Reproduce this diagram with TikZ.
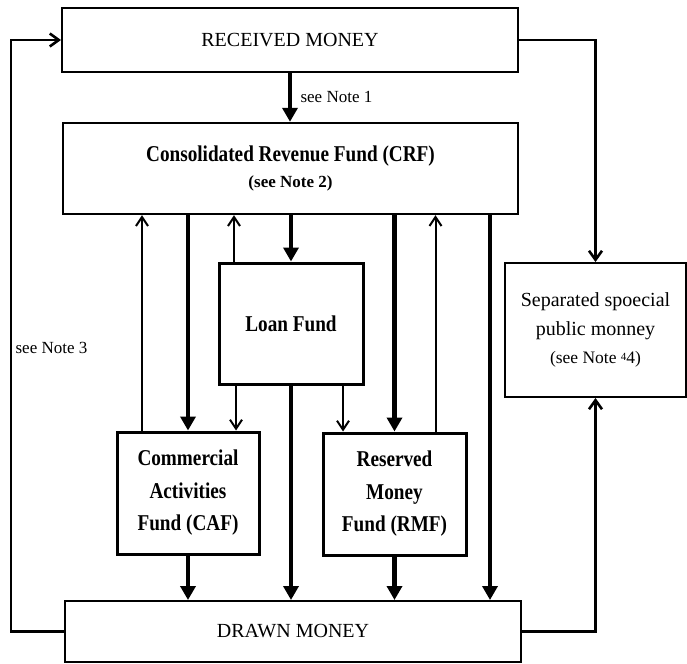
\documentclass[tikz,border=0pt]{standalone}
\usepackage{fontspec}
\setmainfont{Liberation Serif}
\newfontfamily\condfont{Liberation Serif}[FakeStretch=0.85]
\usetikzlibrary{arrows.meta}

\tikzset{%
  money box/.style={
    draw,
    line width=2pt,
    minimum width=456pt,
    font=\fontsize{20}{24}\selectfont
  },
  fund box/.style={
    draw,
    line width=3pt,
    align=center,
    font=\condfont\bfseries\fontsize{22.6}{32.5}\selectfont
  },
  note/.style={font=\fontsize{17}{20}\selectfont},
  main flow/.style={line width=4.5pt, -{Triangle[length=14pt,width=15pt]}},
  side flow/.style={line width=2pt, -{Straight Barb[length=9pt,width=12pt]}},
  outer flow/.style={line width=2.6pt, -{Straight Barb[length=9pt,width=13pt]}},
}

\begin{document}
\begin{tikzpicture}[x=1pt, y=-1pt]
  \useasboundingbox (0,0) rectangle (687,663);
  % money in and out
  \node [money box, minimum height=64pt] (received) at (290,40) {RECEIVED MONEY};
  \node [money box, minimum height=61pt] (drawn) at (293,631.5) {DRAWN MONEY};

  % funds
  \node [draw, line width=2.4pt, minimum width=455pt, minimum height=91pt, align=center,
         font=\fontsize{17}{26}\selectfont] (crf) at (290.5,168.5)
    {{\condfont\bfseries\fontsize{22.6}{27}\selectfont Consolidated Revenue Fund (CRF)}\\
     {\bfseries (see Note 2)}};
  \node [fund box, minimum width=144pt, minimum height=121pt] (loan) at (291,323.5) {Loan Fund};
  \node [fund box, minimum width=142pt, minimum height=122pt] (caf) at (188,493)
    {Commercial\\Activities\\Fund (CAF)};
  \node [fund box, minimum width=143pt, minimum height=122pt] (rmf) at (394.5,494)
    {Reserved\\Money\\Fund (RMF)};
  \node [draw, line width=2pt, minimum width=181pt, minimum height=134pt, align=center,
         font=\fontsize{20}{28.5}\selectfont] (special) at (595.5,330)
    {Separated spoecial\\public monney\\
     {\fontsize{17.5}{20}\selectfont (see Note {\fontsize{11}{12}\selectfont\raisebox{3pt}{4}}4)}};

  % outer flows
  \draw [main flow] (received.south) -- (received.south |- crf.north)
    node [note, right=5pt, midway] (note1) {see Note 1};
  \draw [outer flow] (drawn.west) -- ++(-53,0) coordinate (loop)
    |- node [note, right, pos=0.24] (note3) {see Note 3} (received.west);
  \draw [outer flow] (received.east) -| (special.north);
  \draw [outer flow] (drawn.east) -| (special.south);

  % flows between the funds
  \draw [side flow] ([xshift=-46pt]caf.north) -- ([xshift=-46pt]caf.north |- crf.south);
  \draw [main flow] (crf.south -| caf.north) -- (caf.north);
  \draw [side flow] ([xshift=-57pt]loan.north) -- ([xshift=-57pt]loan.north |- crf.south);
  \draw [main flow] (crf.south -| loan.north) -- (loan.north);
  \draw [side flow] ([xshift=-55pt]loan.south) -- ([xshift=-55pt]loan.south |- caf.north);
  \draw [main flow] (loan.south) -- (loan.south |- drawn.north);
  \draw [side flow] ([xshift=52pt]loan.south) -- ([xshift=52pt]loan.south |- rmf.north);
  \draw [main flow] (crf.south -| rmf.north) -- (rmf.north);
  \draw [side flow] ([xshift=41pt]rmf.north) -- ([xshift=41pt]rmf.north |- crf.south);
  \draw [main flow] ([xshift=199.5pt]crf.south) -- ([xshift=199.5pt]crf.south |- drawn.north);
  \draw [main flow] (caf.south) -- (caf.south |- drawn.north);
  \draw [main flow] (rmf.south) -- (rmf.south |- drawn.north);
\end{tikzpicture}
\end{document}
